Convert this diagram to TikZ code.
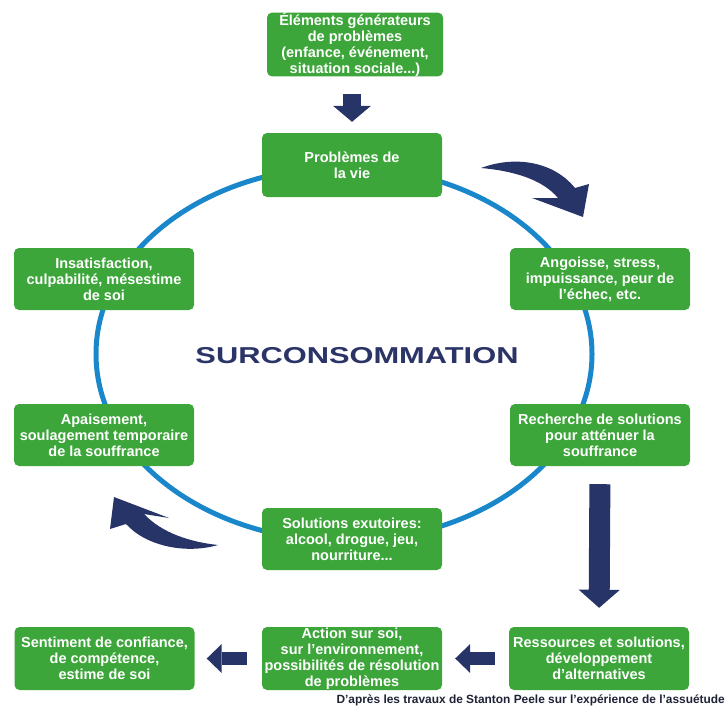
\documentclass[tikz,border=0pt]{standalone}
\usepackage{fontspec}
\setmainfont{Liberation Sans}
\usetikzlibrary{arrows.meta}
\definecolor{boxgreen}{HTML}{3DA63A}
\definecolor{navy}{HTML}{263468}
\definecolor{ringblue}{HTML}{1A87CB}
\definecolor{titlenavy}{HTML}{2B3467}
\definecolor{notecol}{HTML}{1E2235}
\tikzset{
  stepbox/.style={rounded corners=5pt, fill=boxgreen, text=white, align=center,
    minimum width=180pt, minimum height=62pt, inner sep=0pt,
    font=\fontsize{14.5}{16}\selectfont\bfseries},
}
\begin{document}
\begin{tikzpicture}[x=1pt,y=-1pt]
\useasboundingbox (0,0) rectangle (727,715);

% cycle ring
\draw[ringblue, line width=5pt] (344,354) ellipse [x radius=248, y radius=187];

% boxes
\node[stepbox, minimum width=176pt, minimum height=63pt] (origin) at (355,44.5)
  {Éléments générateurs\\de problèmes\\(enfance, événement,\\situation sociale...)};
\node[stepbox, minimum height=64pt] (prob) at (352,165) {Problèmes de\\la vie};
\node[stepbox] (angoisse) at (600,279) {Angoisse, stress,\\impuissance, peur de\\l’échec, etc.};
\node[stepbox] (insat) at (104,279) {Insatisfaction,\\culpabilité, mésestime\\de soi};
\node[stepbox] (recherche) at (600,435) {Recherche de solutions\\pour atténuer la\\souffrance};
\node[stepbox] (apais) at (104,435) {Apaisement,\\soulagement temporaire\\de la souffrance};
\node[stepbox] (exut) at (352,539) {Solutions exutoires:\\alcool, drogue, jeu,\\nourriture...};
\node[stepbox, minimum height=63pt] (confiance) at (104.5,658.5) {Sentiment de confiance,\\de compétence,\\estime de soi};
\node[stepbox, minimum height=63pt] (action) at (352,658.5) {Action sur soi,\\sur l’environnement,\\possibilités de résolution\\de problèmes};
\node[stepbox, minimum height=63pt] (ressources) at (599,658.5) {Ressources et solutions,\\développement\\d'alternatives};

% centre title
\node[text=titlenavy, font=\fontsize{23}{26}\selectfont\bfseries] (title) at (357,356)
  {\scalebox{1.34}[1]{SURCONSOMMATION}};

% straight block arrows
\draw[navy, line width=18pt, -{Triangle[width=38pt,length=16pt,line width=0pt]},
  shorten <=17pt, shorten >=11pt] (origin.south -| prob.south) -- (prob.north);
\draw[navy, line width=21pt, -{Triangle[width=41pt,length=18pt,line width=0pt]},
  shorten <=18pt, shorten >=19pt] (recherche.south) -- (ressources.north);
\draw[navy, line width=13pt, -{Triangle[width=29pt,length=15pt,line width=0pt]},
  shorten <=14pt, shorten >=13pt] (ressources.west) -- (action.east);
\draw[navy, line width=13pt, -{Triangle[width=29pt,length=15pt,line width=0pt]},
  shorten <=15pt, shorten >=12pt] (action.west) -- (confiance.east);

% curved arrows
\fill[navy] (481,168) .. controls (516,155) and (554,162) .. (575,188)
  -- (589,184) -- (583,217) -- (532,198) -- (558,198)
  .. controls (543,180) and (515,171) .. (481,168) -- cycle;
\fill[navy] (114,497) -- (169,518) -- (144,514)
  .. controls (162,533) and (190,542) .. (218,545)
  .. controls (187,554) and (147,547) .. (126,524) -- (110,529) -- cycle;

% source note
\node[anchor=base east, inner sep=0pt, text=notecol,
  font=\fontsize{11.9}{14}\selectfont\bfseries] (note) at (725,703)
  {D’après les travaux de Stanton Peele sur l’expérience de l’assuétude};
\end{tikzpicture}
\end{document}
